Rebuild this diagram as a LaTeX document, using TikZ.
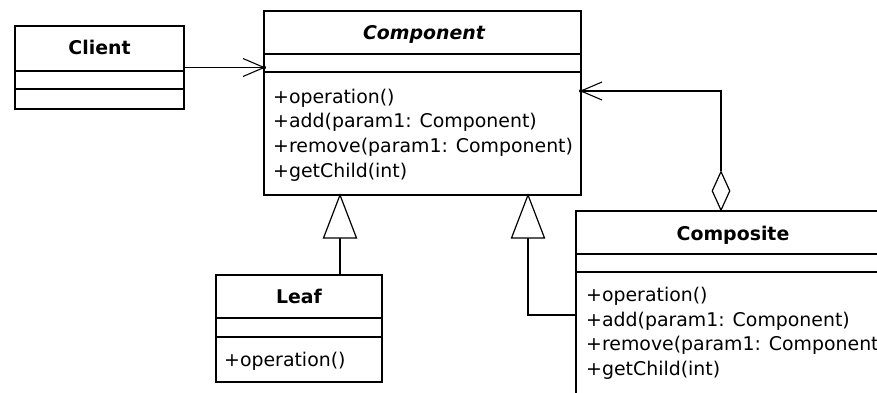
\documentclass[tikz,border=0pt]{standalone}
\usepackage{fontspec}
\setmainfont{DejaVu Sans}
\usetikzlibrary{calc,shapes.geometric}

\tikzset{
  classbox/.style={draw, line width=1.5pt, inner sep=0pt, outer sep=0pt},
  divider/.style={line width=1.5pt},
  title/.style={anchor=base, inner sep=0pt, font=\fontsize{18.9}{22}\selectfont\bfseries},
  member/.style={anchor=base west, inner sep=0pt, font=\fontsize{18.9}{22}\selectfont},
  link/.style={line width=1.5pt},
  barb/.style={line width=1.1pt},
  gentri/.style={line width=1.2pt, fill=white},
  aggdiamond/.style={diamond, draw, line width=1.2pt, fill=white, inner sep=0pt,
                     minimum width=18pt, minimum height=39pt}
}

\begin{document}
\begin{tikzpicture}[x=1pt,y=-1pt]
\useasboundingbox (0,0) rectangle (877,393);
\fill[white] (0,0) rectangle (877,393);
\clip (0,0) rectangle (877,393);

% Client
\node[classbox, minimum width=169pt, minimum height=83pt] (client) at (99.5,67.5) {};
\node[title] (clientname) at (99.5,55) {Client};
\draw[divider] (client.west |- 0,71) -- (client.east |- 0,71);
\draw[divider] (client.west |- 0,89) -- (client.east |- 0,89);

% Component
\node[classbox, minimum width=317pt, minimum height=184pt] (component) at (422.5,103) {};
\node[title] (componentname) at (424,40) {\itshape Component};
\draw[divider] (component.west |- 0,54) -- (component.east |- 0,54);
\draw[divider] (component.west |- 0,72) -- (component.east |- 0,72);
\node[member] (cop)  at (273,103) {+operation()};
\node[member] (cadd) at (273,127.5) {+add(param1: Component)};
\node[member] (crem) at (273,152) {+remove(param1: Component)};
\node[member] (cget) at (273,177) {+getChild(int)};

% Leaf
\node[classbox, minimum width=166pt, minimum height=107pt] (leaf) at (299,328.5) {};
\node[title] (leafname) at (299,303) {Leaf};
\draw[divider] (leaf.west |- 0,318) -- (leaf.east |- 0,318);
\draw[divider] (leaf.west |- 0,337) -- (leaf.east |- 0,337);
\node[member] (lop) at (224,366) {+operation()};

% Composite
\node[classbox, minimum width=314pt, minimum height=209pt] (composite) at (733,315.5) {};
\node[title] (compositename) at (733,240) {Composite};
\draw[divider] (composite.west |- 0,254) -- (composite.east |- 0,254);
\draw[divider] (composite.west |- 0,272) -- (composite.east |- 0,272);
\node[member] (pop)  at (586,301) {+operation()};
\node[member] (padd) at (586,326) {+add(param1: Component)};
\node[member] (prem) at (586,350) {+remove(param1: Component)};
\node[member] (pget) at (586,375) {+getChild(int)};

% Client -> Component association
\coordinate (t1) at (client.east -| component.west);
\draw[link] (client.east) -- (t1);
\draw[barb] ($(t1)+(-21,-9)$) -- (t1) -- ($(t1)+(-21,9)$);
\fill (t1) circle (2pt);

% Composite <>-> Component aggregation
\node[aggdiamond, anchor=south] (agg) at (721,211) {};
\coordinate (t2) at (component.east |- 0,91);
\draw[link] (agg.north) |- (t2);
\draw[barb] ($(t2)+(21,-9)$) -- (t2) -- ($(t2)+(21,9)$);
\fill (t2) circle (2pt);

% Leaf generalization
\coordinate (g1) at (340,195);
\coordinate (g1b) at (340,238);
\draw[link] (g1b) -- (g1b |- leaf.north);
\draw[gentri] (g1) -- ($(g1b)+(-16.5,0)$) -- ($(g1b)+(16.5,0)$) -- cycle;

% Composite generalization
\coordinate (g2) at (528,195);
\coordinate (g2b) at (528,238);
\draw[link] (g2b) |- (composite.west |- 0,315);
\draw[gentri] (g2) -- ($(g2b)+(-16.5,0)$) -- ($(g2b)+(16.5,0)$) -- cycle;
\end{tikzpicture}
\end{document}
